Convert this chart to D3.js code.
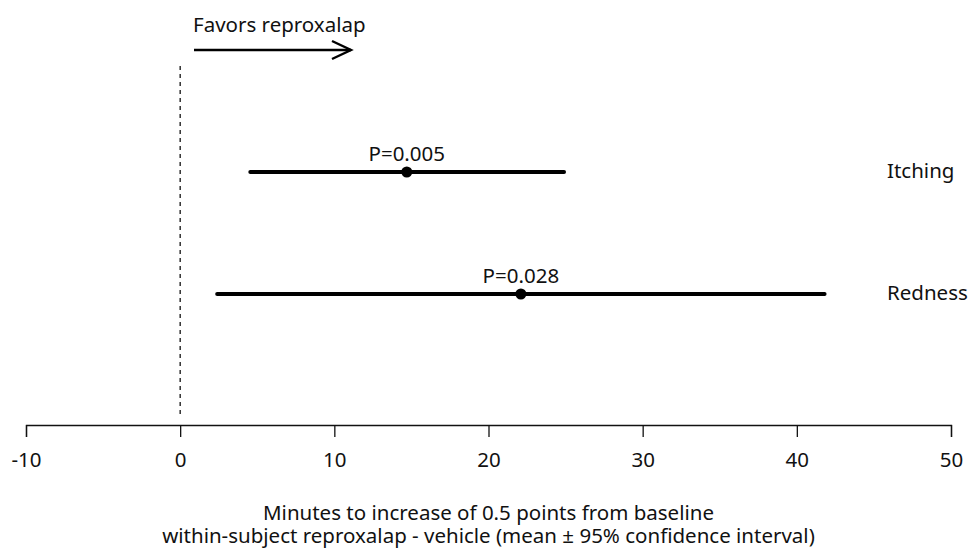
<!DOCTYPE html>
<html>
<head>
<meta charset="utf-8">
<script src="https://cdn.jsdelivr.net/npm/d3@7"></script>
<style>
  body { margin: 0; background: #fff; }
  text { font-family: "Noto Sans", "Open Sans", sans-serif; fill: #111; }
</style>
</head>
<body>
<script>
// data
var outcomes  = ["Itching", "Redness"];
var means     = [14.7, 22.1];
var lowerCI   = [4.55, 2.4];
var upperCI   = [24.9, 41.8];
var pLabels   = ["P=0.005", "P=0.028"];
var tickVals  = [-10, 0, 10, 20, 30, 40, 50];
var titleLines = ["Minutes to increase of 0.5 points from baseline",
                  "within-subject reproxalap - vehicle (mean \u00b1 95% confidence interval)"];

var width = 968, height = 549;
var fs = "20.5px";

var svg = d3.select("body").append("svg")
    .attr("width", width)
    .attr("height", height);

var x = d3.scaleLinear().domain([-10, 50]).range([26, 951]);
var y = d3.scalePoint().domain(outcomes).range([172, 294]);

// x axis (plain hyphen for negatives, as in the original)
var axis = d3.axisBottom(x).tickValues(tickVals).tickSize(12).tickPadding(15)
    .tickFormat(function(d) { return String(d); });
var gAxis = svg.append("g")
    .attr("transform", "translate(0,425)")
    .call(axis);
gAxis.select(".domain").attr("stroke", "#111").attr("stroke-width", 1.3);
gAxis.selectAll(".tick line").attr("stroke", "#111").attr("stroke-width", 1.3);
gAxis.selectAll(".tick text")
    .style("font-family", "'Noto Sans', sans-serif")
    .style("font-size", fs)
    .attr("fill", "#111");

// axis title
svg.selectAll("text.title")
    .data(titleLines)
    .enter().append("text")
    .attr("class", "title")
    .attr("x", x(20))
    .attr("y", function(d, i) { return 520 + i * 23; })
    .attr("text-anchor", "middle")
    .style("font-size", fs)
    .text(function(d) { return d; });

// reference line at zero
svg.append("line")
    .attr("x1", x(0)).attr("x2", x(0))
    .attr("y1", 66).attr("y2", 416)
    .attr("stroke", "#111")
    .attr("stroke-width", 1.3)
    .attr("stroke-dasharray", "4,4");

// "favors" arrow
svg.append("text")
    .attr("x", 193)
    .attr("y", 32)
    .style("font-size", fs)
    .text("Favors reproxalap");

var arrowY = 50;
svg.append("line")
    .attr("x1", 194).attr("x2", 351)
    .attr("y1", arrowY).attr("y2", arrowY)
    .attr("stroke", "#000").attr("stroke-width", 2.4);
svg.append("path")
    .attr("d", "M332," + (arrowY - 9) + "L351," + arrowY + "L332," + (arrowY + 9))
    .attr("fill", "none")
    .attr("stroke", "#000").attr("stroke-width", 2.4);

// intervals
var rows = outcomes.map(function(o, i) {
    return { name: o, mean: means[i], lo: lowerCI[i], hi: upperCI[i], p: pLabels[i] };
});

svg.selectAll("line.ci")
    .data(rows)
    .enter().append("line")
    .attr("class", "ci")
    .attr("x1", function(d) { return x(d.lo); })
    .attr("x2", function(d) { return x(d.hi); })
    .attr("y1", function(d) { return y(d.name); })
    .attr("y2", function(d) { return y(d.name); })
    .attr("stroke", "#000")
    .attr("stroke-width", 4)
    .attr("stroke-linecap", "round");

svg.selectAll("circle.mean")
    .data(rows)
    .enter().append("circle")
    .attr("class", "mean")
    .attr("cx", function(d) { return x(d.mean); })
    .attr("cy", function(d) { return y(d.name); })
    .attr("r", 5.5)
    .attr("fill", "#000");

svg.selectAll("text.p")
    .data(rows)
    .enter().append("text")
    .attr("class", "p")
    .attr("x", function(d) { return x(d.mean); })
    .attr("y", function(d) { return y(d.name) - 11; })
    .attr("text-anchor", "middle")
    .style("font-size", fs)
    .text(function(d) { return d.p; });

svg.selectAll("text.row")
    .data(rows)
    .enter().append("text")
    .attr("class", "row")
    .attr("x", 887)
    .attr("y", function(d) { return y(d.name) + 6; })
    .style("font-size", fs)
    .text(function(d) { return d.name; });
</script>
</body>
</html>
